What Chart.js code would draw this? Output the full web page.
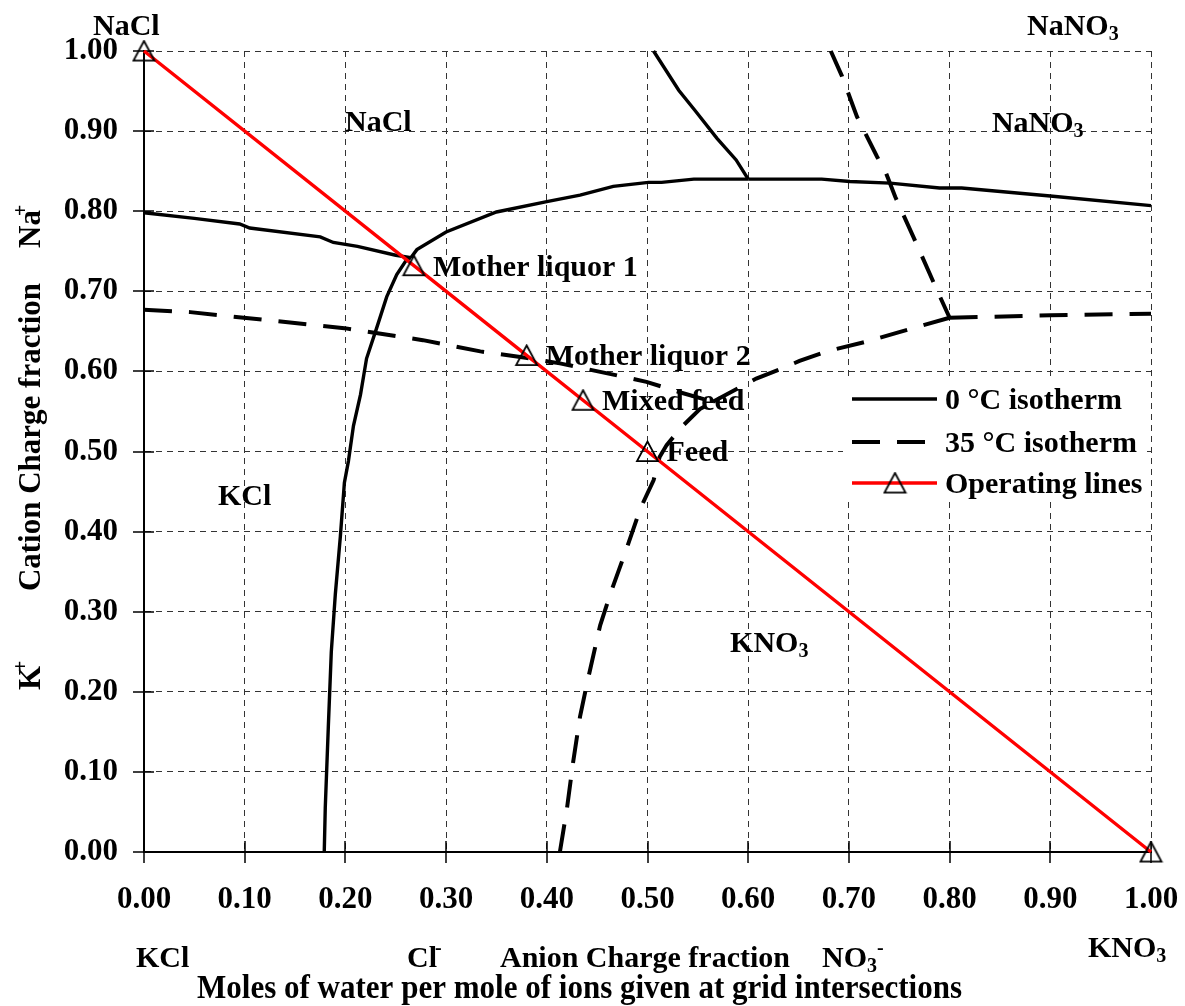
<!DOCTYPE html>
<html>
<head>
<meta charset="utf-8">
<script src="https://cdn.jsdelivr.net/npm/chart.js@4/dist/chart.umd.min.js"></script>
<style>
  html, body { margin: 0; padding: 0; background: #fff; }
  canvas { display: block; }
</style>
</head>
<body>
<canvas id="phase" width="1185" height="1006"></canvas>
<script>
// Axis ticks (charge fractions)
const axisTicks = [0.0, 0.1, 0.2, 0.3, 0.4, 0.5, 0.6, 0.7, 0.8, 0.9, 1.0];

// 0 °C isotherm, one array per field boundary  [NO3- fraction, Na+ fraction]
const iso0_NaCl_KCl   = [[0.000,0.798],[0.050,0.791],[0.095,0.784],[0.105,0.779],[0.175,0.768],[0.188,0.761],[0.212,0.756],[0.250,0.745],[0.265,0.742]];
const iso0_KCl_KNO3   = [[0.179,0.000],[0.180,0.055],[0.183,0.155],[0.186,0.250],[0.190,0.322],[0.195,0.394],[0.199,0.461],[0.203,0.488],[0.208,0.532],[0.215,0.571],[0.221,0.616],[0.231,0.654],[0.241,0.693],[0.251,0.721],[0.261,0.740],[0.265,0.742]];
const iso0_NaCl_KNO3  = [[0.265,0.742],[0.271,0.752],[0.300,0.774],[0.350,0.799],[0.400,0.812],[0.433,0.820],[0.466,0.831],[0.501,0.836],[0.514,0.836],[0.546,0.840],[0.600,0.840]];
const iso0_NaCl_NaNO3 = [[0.506,1.000],[0.531,0.951],[0.547,0.926],[0.569,0.891],[0.588,0.864],[0.600,0.840]];
const iso0_NaNO3_KNO3 = [[0.600,0.840],[0.673,0.840],[0.701,0.837],[0.741,0.835],[0.790,0.829],[0.812,0.829],[0.900,0.819],[1.000,0.807]];

// 35 °C isotherm
const iso35_NaCl_KCl   = [[0.000,0.677],[0.046,0.674],[0.099,0.667],[0.199,0.654],[0.277,0.639],[0.334,0.625],[0.379,0.617],[0.413,0.610],[0.466,0.596],[0.499,0.587],[0.532,0.574],[0.565,0.562]];
const iso35_KCl_KNO3   = [[0.413,0.000],[0.420,0.054],[0.426,0.111],[0.433,0.169],[0.440,0.211],[0.453,0.283],[0.463,0.322],[0.479,0.378],[0.493,0.429],[0.506,0.464],[0.512,0.493],[0.519,0.508],[0.535,0.532],[0.552,0.553],[0.565,0.562]];
const iso35_NaCl_KNO3  = [[0.565,0.562],[0.608,0.591],[0.632,0.603],[0.651,0.613],[0.678,0.625],[0.720,0.638],[0.750,0.649],[0.800,0.667]];
const iso35_NaCl_NaNO3 = [[0.682,1.000],[0.693,0.969],[0.708,0.918],[0.728,0.868],[0.737,0.847],[0.746,0.818],[0.764,0.768],[0.788,0.700],[0.800,0.667]];
const iso35_NaNO3_KNO3 = [[0.800,0.667],[0.900,0.670],[1.000,0.672]];

// Operating line points
const opX     = [0.000, 0.268, 0.380, 0.436, 0.500, 1.000];
const opY     = [1.000, 0.732, 0.620, 0.564, 0.500, 0.000];
const opNames = ['', 'Mother liquor 1', 'Mother liquor 2', 'Mixed feed', 'Feed', ''];

const seriesNames = ['0 \u00B0C isotherm', '35 \u00B0C isotherm', 'Operating lines'];

const FONT = '"Liberation Serif", "Times New Roman", serif';
const toXY = arr => arr.map(([x, y]) => ({ x, y }));

// open triangle marker, centred on its point
function makeTriangle() {
  const c = document.createElement('canvas');
  c.width = 25; c.height = 23;
  const g = c.getContext('2d');
  g.strokeStyle = '#000';
  g.lineWidth = 1.8;
  g.lineJoin = 'miter';
  g.beginPath();
  g.moveTo(12.5, 1.5);
  g.lineTo(23, 21.2);
  g.lineTo(2, 21.2);
  g.closePath();
  g.stroke();
  return c;
}
const triangle = makeTriangle();

function solid(data, label) {
  return { label, data: toXY(data), showLine: true, borderColor: '#000', borderWidth: 3.4,
           pointRadius: 0, fill: false, tension: 0, clip: false };
}
function dashed(data, label) {
  return { label, data: toXY(data), showLine: true, borderColor: '#000', borderWidth: 4,
           borderDash: [28, 17], borderCapStyle: 'butt', pointRadius: 0, fill: false, tension: 0, clip: false };
}

const datasets = [
  {
    label: seriesNames[2],
    data: opX.map((x, i) => ({ x, y: opY[i] })),
    showLine: true, borderColor: '#ff0000', borderWidth: 3.4, tension: 0, fill: false,
    pointStyle: triangle, pointRadius: 11, clip: false
  },
  solid(iso0_NaCl_KCl, seriesNames[0]),
  solid(iso0_KCl_KNO3, seriesNames[0]),
  solid(iso0_NaCl_KNO3, seriesNames[0]),
  solid(iso0_NaCl_NaNO3, seriesNames[0]),
  solid(iso0_NaNO3_KNO3, seriesNames[0]),
  dashed(iso35_NaCl_KCl, seriesNames[1]),
  dashed(iso35_KCl_KNO3, seriesNames[1]),
  dashed(iso35_NaCl_KNO3, seriesNames[1]),
  dashed(iso35_NaCl_NaNO3, seriesNames[1]),
  dashed(iso35_NaNO3_KNO3, seriesNames[1])
];

// text made of runs (subscripts / superscripts); y is the cap-height centre
function richText(ctx, parts, x, y, align, size) {
  const base = y + size * 0.331;
  const widths = parts.map(p => {
    ctx.font = `bold ${Math.round(size * (p.rel || 1))}px ${FONT}`;
    return ctx.measureText(p.t).width + (p.dx || 0);
  });
  const total = widths.reduce((a, b) => a + b, 0);
  let cx = align === 'center' ? x - total / 2 : (align === 'right' ? x - total : x);
  ctx.textAlign = 'left';
  ctx.textBaseline = 'alphabetic';
  parts.forEach((p, i) => {
    ctx.font = `bold ${Math.round(size * (p.rel || 1))}px ${FONT}`;
    ctx.fillText(p.t, cx + (p.dx || 0), base + (p.dy || 0));
    cx += widths[i];
  });
}
const sub = t => ({ t, rel: 0.66, dy: 5 });
const sup = (t, dx) => ({ t, rel: 0.66, dy: -13, dx: dx || 0 });

const decor = {
  id: 'decor',
  beforeDatasetsDraw(chart) {
    const { ctx, chartArea: a, scales: { x, y } } = chart;
    ctx.save();
    ctx.strokeStyle = '#000';
    ctx.lineWidth = 1.5;
    ctx.beginPath();
    x.ticks.forEach(t => {
      const px = Math.round(x.getPixelForValue(t.value));
      ctx.moveTo(px, a.bottom - 11); ctx.lineTo(px, a.bottom + 11);
    });
    y.ticks.forEach(t => {
      const py = Math.round(y.getPixelForValue(t.value));
      ctx.moveTo(a.left - 11, py); ctx.lineTo(a.left + 10, py);
    });
    ctx.stroke();
    ctx.restore();
  },
  afterDatasetsDraw(chart) {
    const { ctx, scales: { x, y } } = chart;
    const S = 30;
    ctx.save();
    ctx.fillStyle = '#000';

    // point annotations
    opNames.forEach((name, i) => {
      if (!name) return;
      richText(ctx, [{ t: name }], x.getPixelForValue(opX[i]) + 19, y.getPixelForValue(opY[i]), 'left', S);
    });

    // crystallisation fields
    richText(ctx, [{ t: 'NaCl' }], x.getPixelForValue(0.1996), y.getPixelForValue(0.9126), 'left', S);
    richText(ctx, [{ t: 'NaNO' }, sub('3')], x.getPixelForValue(0.842), y.getPixelForValue(0.911), 'left', S);
    richText(ctx, [{ t: 'KCl' }], x.getPixelForValue(0.0735), y.getPixelForValue(0.446), 'left', S);
    richText(ctx, [{ t: 'KNO' }, sub('3')], x.getPixelForValue(0.582), y.getPixelForValue(0.262), 'left', S);

    // corner salts and axis captions
    richText(ctx, [{ t: 'NaCl' }], 93, 25, 'left', S);
    richText(ctx, [{ t: 'NaNO' }, sub('3')], 1027, 25, 'left', S);
    richText(ctx, [{ t: 'KCl' }], 136, 957, 'left', S);
    richText(ctx, [{ t: 'Cl' }, sup('-', -2)], 407, 957, 'left', S);
    richText(ctx, [{ t: 'Anion Charge fraction' }], 500, 957, 'left', S);
    richText(ctx, [{ t: 'NO' }, sub('3'), sup('-', 0)], 822, 957, 'left', S);
    richText(ctx, [{ t: 'KNO' }, sub('3')], 1088, 947, 'left', S);

    ctx.font = `bold 34px ${FONT}`;
    ctx.textAlign = 'left';
    ctx.textBaseline = 'alphabetic';
    ctx.fillText('Moles of water per mole of ions given at grid intersections', 197, 998, 765);

    // vertical axis caption
    ctx.save();
    ctx.translate(30, 437);
    ctx.rotate(-Math.PI / 2);
    richText(ctx, [{ t: 'Cation Charge fraction' }], 0, 0, 'center', 31);
    ctx.restore();
    ctx.save();
    ctx.translate(30, 248);
    ctx.rotate(-Math.PI / 2);
    richText(ctx, [{ t: 'Na' }, sup('+', -6)], 0, 0, 'left', 31);
    ctx.restore();
    ctx.save();
    ctx.translate(30, 690);
    ctx.rotate(-Math.PI / 2);
    richText(ctx, [{ t: 'K' }, sup('+', -6)], 0, 0, 'left', 31);
    ctx.restore();

    // legend
    ctx.fillStyle = '#fff';
    ctx.fillRect(843, 377, 304, 123);
    const rows = [399, 442, 483];
    ctx.lineCap = 'butt';
    ctx.strokeStyle = '#000';
    ctx.lineWidth = 3.4;
    ctx.beginPath(); ctx.moveTo(852, rows[0]); ctx.lineTo(937, rows[0]); ctx.stroke();
    ctx.lineWidth = 4;
    ctx.setLineDash([28, 17]);
    ctx.beginPath(); ctx.moveTo(852, rows[1]); ctx.lineTo(937, rows[1]); ctx.stroke();
    ctx.setLineDash([]);
    ctx.strokeStyle = '#ff0000';
    ctx.lineWidth = 3.4;
    ctx.beginPath(); ctx.moveTo(852, rows[2]); ctx.lineTo(937, rows[2]); ctx.stroke();
    ctx.drawImage(triangle, 895 - triangle.width / 2, rows[2] - triangle.height / 2);
    ctx.fillStyle = '#000';
    seriesNames.forEach((n, i) => richText(ctx, [{ t: n }], 945, rows[i], 'left', S));

    ctx.restore();
  }
};

const axisCommon = {
  type: 'linear',
  min: 0,
  max: 1,
  afterBuildTicks: s => { s.ticks = axisTicks.map(v => ({ value: v })); },
  grid: { color: '#333', lineWidth: 1, drawTicks: false },
  border: { display: true, color: '#000', width: 2, dash: [6, 5] }
};

new Chart(document.getElementById('phase'), {
  type: 'scatter',
  data: { datasets },
  plugins: [decor],
  options: {
    responsive: false,
    devicePixelRatio: 1,
    animation: false,
    events: [],
    layout: { padding: { left: 0, top: 51, right: 34, bottom: 0 } },
    plugins: { legend: { display: false }, tooltip: { enabled: false } },
    scales: {
      x: Object.assign({}, axisCommon, {
        position: 'bottom',
        afterFit: s => { s.height = 154; s.paddingLeft = 0; s.paddingRight = 0; },
        ticks: { autoSkip: false, maxRotation: 0, minRotation: 0, padding: 29, color: '#000',
                 font: { family: FONT, size: 31, weight: 'bold' }, callback: v => Number(v).toFixed(2) }
      }),
      y: Object.assign({}, axisCommon, {
        position: 'left',
        afterFit: s => { s.width = 144; s.paddingTop = 0; s.paddingBottom = 0; },
        ticks: { autoSkip: false, padding: 26, color: '#000',
                 font: { family: FONT, size: 31, weight: 'bold' }, callback: v => Number(v).toFixed(2) }
      })
    }
  }
});
</script>
</body>
</html>
